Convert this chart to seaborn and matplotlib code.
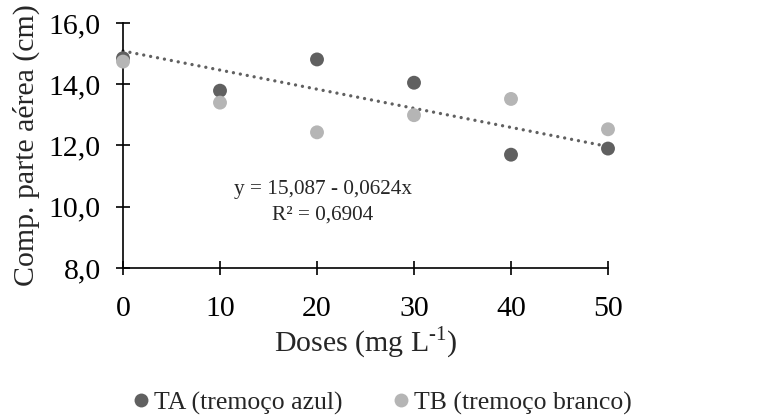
import numpy as np
import pandas as pd
import matplotlib
matplotlib.use("Agg")
import matplotlib.pyplot as plt
import seaborn as sns

doses = [0, 10, 20, 30, 40, 50]
ta_vals = [14.85, 13.79, 14.81, 14.05, 11.70, 11.90]
tb_vals = [14.74, 13.40, 12.43, 12.99, 13.52, 12.53]
series_names = ["TA (tremoço azul)", "TB (tremoço branco)"]
trend_coef = [15.087, -0.0624]
y_ticks = [8.0, 10.0, 12.0, 14.0, 16.0]
x_ticks = [0, 10, 20, 30, 40, 50]

sns.set_style("white")
plt.rcParams["font.family"] = ["Liberation Serif", "DejaVu Serif"]
plt.rcParams["mathtext.fontset"] = "custom"
plt.rcParams["mathtext.rm"] = "Liberation Serif"

df = pd.DataFrame({
    "Dose": doses * 2,
    "Valor": ta_vals + tb_vals,
    "Serie": [series_names[0]] * len(doses) + [series_names[1]] * len(doses),
})

fig = plt.figure(figsize=(7.58, 4.16), dpi=100)
ax = fig.add_axes([123 / 758, 1 - 268 / 416, (608 - 123) / 758, (268 - 23) / 416])

palette = {series_names[0]: "#606060", series_names[1]: "#b5b5b5"}
sns.scatterplot(data=df, x="Dose", y="Valor", hue="Serie", palette=palette,
                s=100, edgecolor="none", ax=ax, zorder=3, legend=True)

xs = np.array([doses[0], doses[-1]], dtype=float)
ax.plot(xs, trend_coef[0] + trend_coef[1] * xs, linestyle=(0, (0.01, 2.1)),
        dash_capstyle="round", color="#606060", linewidth=2.4, zorder=2)

ax.set_xlim(0, 50)
ax.set_ylim(8, 16)
ax.set_xticks(x_ticks)
ax.set_yticks(y_ticks)
ax.set_yticklabels([f"{v:.1f}".replace(".", ",") for v in y_ticks])
ax.tick_params(axis="both", which="major", direction="inout", length=10, width=1.2,
               labelsize=21.5, color="black", labelcolor="black",
               bottom=True, left=True)
ax.tick_params(axis="x", pad=15)
ax.tick_params(axis="y", pad=11)
for s in ["top", "right"]:
    ax.spines[s].set_visible(False)
for s in ["left", "bottom"]:
    ax.spines[s].set_color("black")
    ax.spines[s].set_linewidth(1.2)
ax.patch.set_alpha(0)
for c in ax.collections:
    c.set_clip_on(False)
for l in ax.lines:
    l.set_clip_on(False)

ax.set_xlabel("Doses (mg L$^{\\text{-}1}$)", fontsize=21.5, labelpad=2)
ax.set_ylabel("Comp. parte aérea (cm)", fontsize=21.5, labelpad=6)

ax.text(20.6, 10.15, "y = 15,087 - 0,0624x\nR² = 0,6904", ha="center", va="center",
        fontsize=15.3, linespacing=1.45)

handles, labels = ax.get_legend_handles_labels()
ax.legend(handles, labels, loc="center", bbox_to_anchor=(381 / 758, 1 - 403 / 416),
          bbox_transform=fig.transFigure, ncol=2, frameon=False, fontsize=18.5,
          handletextpad=0.1, columnspacing=1.89, markerscale=1.0, handlelength=0.8,
          borderpad=0, borderaxespad=0)

fig.savefig("out.png", dpi=100)
